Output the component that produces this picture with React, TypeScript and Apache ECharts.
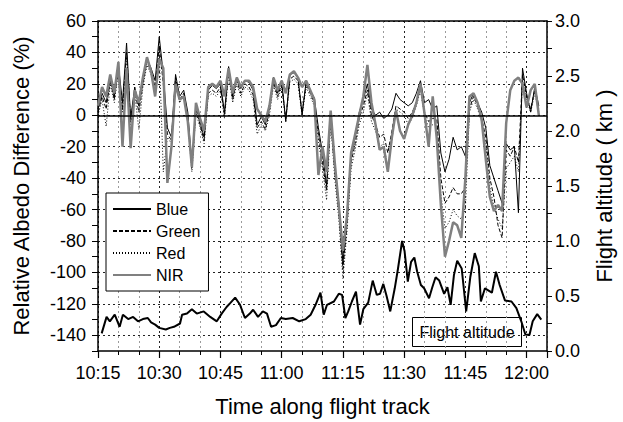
import React, { useEffect, useRef } from "react";
import * as echarts from "echarts";

// minutes after 10:15
const minutes = [
  0, 1, 2, 3, 4, 5, 6, 7, 8, 9, 10, 11, 12, 13, 14, 15, 16, 17, 18, 19, 20, 21, 22, 23, 24, 25, 26, 27, 28, 29,
  30, 31, 32, 33, 34, 35, 36, 37, 38, 39, 40, 41, 42, 43, 44, 45, 46, 47, 48, 49, 50, 51, 52, 53, 54, 55, 56, 57, 58, 59,
  60, 61, 62, 63, 64, 65, 66, 67, 68, 69, 70, 71, 72, 73, 74, 75, 76, 77, 78, 79, 80, 81, 82, 83, 84, 85, 86, 87, 88, 89,
  90, 91, 92, 93, 94, 95, 96, 97, 98, 99, 100, 101, 102, 103, 104, 105, 106, 107, 108,
];

const blue = [
  4, 14, 8, 24, 12, 32, 8, 46, -2, 18,
  6, 22, 36, 30, 22, 50, 26, -8, -14, 26,
  12, 16, 2, -32, 6, -4, -14, 16, 19, 17,
  20, 2, 31, 12, 24, 17, 22, 21, 16, -6,
  -1, -6, 6, 24, 14, 22, -4, 26, 27, 24,
  0, 22, 16, 11, -8, -24, -45, 2, -32, -56,
  -94, -66, -26, -14, 2, 10, 20, 4, 0, 2,
  -2, 0, 4, 14, 10, 8, 6, 8, 14, 22,
  8, 10, 4, 6, -24, -36, -28, -14, -22, -20,
  -26, 8, 14, 8, 2, -8, -32, -40, -48, -56,
  -18, -22, -20, -62, 30, 14, 2, 18, 6,
];

const green = [
  2, 12, 4, 22, 10, 30, 4, 40, -4, 16,
  2, 20, 34, 28, 18, 44, 20, -12, -16, 24,
  10, 14, -2, -34, 4, -6, -16, 14, 16, 14,
  18, 0, 28, 10, 22, 14, 20, 18, 13, -8,
  -4, -9, 3, 21, 12, 20, -2, 23, 25, 22,
  2, 20, 14, 8, -12, -30, -48, -2, -36, -62,
  -98, -70, -30, -18, -2, 6, 16, 0, -6, -14,
  -12, -24, -10, 6, 4, 2, -2, 2, 8, 18,
  2, -4, -2, -2, -40, -56, -52, -46, -50, -50,
  -46, 4, 12, 6, -2, -14, -40, -52, -70, -78,
  -22, -26, -20, -30, 26, 12, 4, 16, 4,
];

const red = [
  0, 10, -7, 20, 8, 28, 2, 38, -6, 14,
  -9, 18, 32, 26, 14, 40, -36, -14, -18, 22,
  8, 12, -4, -36, 2, -8, -18, 12, 14, 12,
  16, -2, 26, 8, 20, 12, 18, 16, 10, -12,
  -6, -10, 0, 19, 10, 18, -4, 21, 23, 20,
  0, 18, 12, 6, -16, -34, -54, -4, -40, -66,
  -104, -74, -34, -22, -6, 2, 14, -4, -10, -20,
  -18, -34, -16, 4, 2, 0, -6, -2, 6, 16,
  0, -8, -6, -6, -50, -72, -68, -60, -64, -66,
  -60, 2, 10, 4, -4, -18, -46, -58, -66, -72,
  -34, -30, -26, -36, 22, 10, 2, 14, 2,
];

const nir = [
  6, 18, 12, 26, 14, 34, -20, 30, -21, 16,
  8, 24, 37, 28, 12, 36, 30, -43, -20, 20,
  10, 12, -4, -33, 8, -2, -10, 18, 20, 18,
  22, 12, 30, 14, 24, 18, 22, 22, 18, 4,
  0, -4, 6, 24, 16, 22, 14, 26, 28, 24,
  18, 22, 16, 10, -38, -20, -36, 3, -30, -58,
  -86, -64, -24, -12, 0, 12, 32, 8, -6, -22,
  -20, -36, -14, 3, -10, -15, -6, 0, 8, 20,
  1, -20, 12, -15, -57, -90, -80, -68, -70, -78,
  -40, 12, 14, 8, -3, -28, -52, -61, -57, -61,
  -5, 16, 22, 24, 20, 5, 16, 20, 0,
];

const altMinutes = [
  0.9, 2.1, 2.9, 4.1, 5.3, 6.1, 7.4, 8.6, 9.8, 11, 12.2, 13, 14, 15, 16.6, 17.6, 18.6, 20.1, 20.6, 21.8,
  23, 24.2, 25.9, 27.5, 29.1, 30.3, 31.5, 32.5, 33.6, 34.8, 36, 37.2, 38, 39.2, 40.4, 41.4, 42.4, 43.6, 44.8, 46,
  47.7, 49.3, 50.9, 52.1, 53.3, 54.5, 55.3, 56.1, 57.8, 59, 59.8, 60.6, 61.3, 62.2, 63.2, 64.2, 65, 66.2, 67.3, 68.3,
  69.1, 69.9, 70.7, 71.6, 72.7, 73.5, 74.5, 75.1, 75.9, 76.7, 77.5, 78.2, 79.1, 79.9, 81.1, 81.9, 82.7, 83.6, 84.8, 85.6,
  86.4, 87.2, 88, 89.1, 90.2, 91.2, 92.3, 93.3, 93.8, 94.8, 96.5, 97.5, 98.4, 99.7, 101.3, 102.5, 103.7, 104.7, 105.7, 106.5,
  107.6, 108.6,
];

const altKm = [
  0.16, 0.31, 0.27, 0.33, 0.22, 0.33, 0.29, 0.31, 0.27, 0.29, 0.3, 0.26, 0.24, 0.21, 0.195, 0.21, 0.22, 0.25, 0.33, 0.34,
  0.38, 0.34, 0.36, 0.31, 0.27, 0.34, 0.4, 0.44, 0.485, 0.42, 0.3, 0.34, 0.375, 0.31, 0.36, 0.34, 0.22, 0.235, 0.3, 0.29,
  0.3, 0.27, 0.29, 0.33, 0.42, 0.53, 0.33, 0.42, 0.45, 0.52, 0.51, 0.3, 0.36, 0.45, 0.54, 0.24, 0.38, 0.44, 0.64, 0.51,
  0.52, 0.61, 0.5, 0.36, 0.57, 0.75, 1.0, 0.91, 0.63, 0.81, 0.85, 0.72, 0.6, 0.57, 0.48, 0.58, 0.67, 0.64, 0.52, 0.58,
  0.42, 0.69, 0.82, 0.75, 0.36, 0.67, 0.89, 0.77, 0.45, 0.57, 0.53, 0.72, 0.6, 0.46, 0.45, 0.39, 0.27, 0.15, 0.145, 0.27,
  0.335, 0.285,
];

const legendNames = ["Blue", "Green", "Red", "NIR"];
const startOfAxis = 10 * 60 + 15;

const FONT = "'Liberation Sans', Arial, Helvetica, sans-serif";

function timeLabel(m: number): string {
  const t = startOfAxis + m;
  const h = Math.floor(t / 60);
  const mm = t % 60;
  return h + ":" + String(mm).padStart(2, "0");
}

function pairs(xs: number[], ys: number[]) {
  return xs.map((x, i) => [x, ys[i]]);
}

export default function App() {
  const ref = useRef<HTMLDivElement>(null);
  useEffect(() => {
    if (!ref.current) return;
    const chart = echarts.init(ref.current, null, { renderer: "svg" });
    const dotted = [2, 3];
    const option: any = {
      animation: false,
      backgroundColor: "#fff",
      textStyle: { fontFamily: FONT, color: "#000" },
      grid: { left: 98, right: 71, top: 21, bottom: 67, containLabel: false },
      legend: {
        data: legendNames,
        orient: "vertical",
        left: 106,
        top: 193,
        itemWidth: 38,
        itemHeight: 14,
        itemGap: 6,
        padding: [8, 8, 8, 6],
        borderColor: "#000",
        borderWidth: 1,
        backgroundColor: "#fff",
        itemStyle: { color: "rgba(0,0,0,0)", borderWidth: 0, opacity: 0 },
        textStyle: { fontSize: 16, color: "#000", fontFamily: FONT },
      },
      xAxis: [
        {
          type: "value",
          position: "bottom",
          min: 0,
          max: 110,
          interval: 15,
          axisLine: { show: true, onZero: false, lineStyle: { color: "#000", width: 1.5 } },
          axisTick: { show: true, length: 7, lineStyle: { color: "#000", width: 1.2 } },
          axisLabel: {
            formatter: (v: number) => (v % 15 === 0 && v <= 105 ? timeLabel(v) : ""),
            fontSize: 18,
            color: "#000",
            margin: 13,
            fontFamily: FONT,
          },
          splitLine: { show: true, lineStyle: { color: "#222", type: dotted, width: 1 } },
          name: "Time along flight track",
          nameLocation: "middle",
          nameGap: 44,
          nameTextStyle: { fontSize: 22, color: "#000", fontFamily: FONT },
        },
        {
          type: "value",
          position: "bottom",
          min: 0,
          max: 110,
          interval: 5,
          axisLine: { show: false, onZero: false },
          axisTick: { show: true, length: 4, lineStyle: { color: "#000", width: 1 } },
          axisLabel: { show: false },
          splitLine: {
            show: true,
            lineStyle: { color: ["rgba(0,0,0,0)", "#9a9a9a", "#9a9a9a"], type: dotted, width: 1 },
          },
        },
        {
          type: "value",
          position: "top",
          min: 0,
          max: 110,
          axisLine: { show: true, onZero: false, lineStyle: { color: "#000", width: 1.5 } },
          axisTick: { show: false },
          axisLabel: { show: false },
          splitLine: { show: false },
        },
      ],
      yAxis: [
        {
          type: "value",
          position: "left",
          min: -150,
          max: 60,
          interval: 10,
          axisLine: { show: true, onZero: false, lineStyle: { color: "#000", width: 1.5 } },
          axisTick: { show: true, length: 6, lineStyle: { color: "#000", width: 1 } },
          axisLabel: {
            formatter: (v: number) => (v % 20 === 0 ? String(v) : ""),
            fontSize: 18,
            color: "#000",
            margin: 12,
            fontFamily: FONT,
          },
          splitLine: {
            show: true,
            lineStyle: { color: ["rgba(0,0,0,0)", "#222"], type: dotted, width: 1 },
          },
          name: "Relative Albedo Difference (%)",
          nameLocation: "middle",
          nameRotate: 90,
          nameGap: 66,
          nameTextStyle: { fontSize: 22, color: "#000", fontFamily: FONT },
        },
        {
          type: "value",
          position: "right",
          min: 0,
          max: 3,
          interval: 0.25,
          axisLine: { show: true, onZero: false, lineStyle: { color: "#000", width: 1.5 } },
          axisTick: { show: true, length: 5, lineStyle: { color: "#000", width: 1 } },
          axisLabel: {
            formatter: (v: number) => (Math.abs(v * 2 - Math.round(v * 2)) < 1e-9 ? v.toFixed(1) : ""),
            fontSize: 18,
            color: "#000",
            margin: 8,
            fontFamily: FONT,
          },
          splitLine: { show: false },
          name: "Flight altitude ( km )",
          nameLocation: "middle",
          nameRotate: 90,
          nameGap: 46,
          nameTextStyle: { fontSize: 22, color: "#000", fontFamily: FONT },
        },
      ],
      series: [
        {
          name: "Blue",
          type: "line",
          data: pairs(minutes, blue),
          symbol: "none",
          lineStyle: { color: "#000", width: 1 },
          itemStyle: { color: "#000" },
          z: 3,
          markLine: {
            silent: true,
            symbol: "none",
            label: { show: false },
            lineStyle: { color: "#000", type: "solid", width: 1.5 },
            data: [{ yAxis: 0 }],
          },
        },
        {
          name: "Green",
          type: "line",
          data: pairs(minutes, green),
          symbol: "none",
          lineStyle: { color: "#000", width: 1, type: [4, 2] },
          itemStyle: { color: "#000" },
          z: 3,
        },
        {
          name: "Red",
          type: "line",
          data: pairs(minutes, red),
          symbol: "none",
          lineStyle: { color: "#000", width: 1, type: [1, 2] },
          itemStyle: { color: "#000" },
          z: 3,
        },
        {
          name: "NIR",
          type: "line",
          data: pairs(minutes, nir),
          symbol: "none",
          lineStyle: { color: "#808080", width: 2.5 },
          itemStyle: { color: "#808080" },
          z: 4,
        },
        {
          name: "Flight altitude",
          type: "line",
          yAxisIndex: 1,
          data: pairs(altMinutes, altKm),
          symbol: "none",
          lineStyle: { color: "#000", width: 2 },
          itemStyle: { color: "#000" },
          z: 3,
        },
      ],
      graphic: [
        {
          type: "group",
          left: 412,
          top: 317,
          z: 100,
          children: [
            {
              type: "rect",
              shape: { x: 0, y: 0, width: 109, height: 29 },
              style: { fill: "#fff", stroke: "#000", lineWidth: 1 },
            },
            {
              type: "text",
              x: 54.5,
              y: 15,
              style: {
                text: "Flight altitude",
                fontSize: 16,
                fontFamily: FONT,
                fill: "#000",
                align: "center",
                verticalAlign: "middle",
              },
            },
          ],
        },
      ],
    };
    chart.setOption(option);
    return () => chart.dispose();
  }, []);
  return (
    <div
      ref={ref}
      style={{ position: "fixed", left: 0, top: 0, width: 623, height: 422, background: "#fff" }}
    />
  );
}
